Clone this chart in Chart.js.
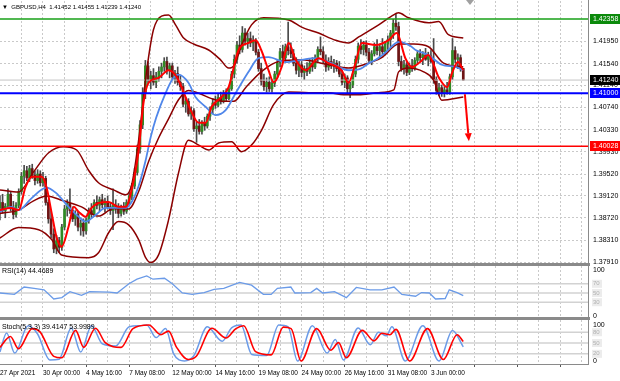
<!DOCTYPE html>
<html><head><meta charset="utf-8">
<script src="https://cdn.jsdelivr.net/npm/chart.js@4.4.1/dist/chart.umd.min.js"></script>
<style>
html,body{margin:0;padding:0;background:#fff;width:620px;height:381px;overflow:hidden;font-family:"Liberation Sans",Arial,sans-serif}
canvas{position:absolute;left:0}
.lbl{position:absolute;font-size:7px;line-height:8px;color:#000;white-space:pre}
.sep{position:absolute;background:#8a8a8a}
</style></head><body>
<canvas id="main" width="620" height="267" style="top:0"></canvas>
<canvas id="rsi" width="620" height="53" style="top:266px"></canvas>
<canvas id="sto" width="620" height="61" style="top:320px"></canvas>
<div class="sep" style="left:0;top:263px;width:590px;height:3px"></div>
<div class="sep" style="left:0;top:317px;width:590px;height:3px"></div>
<div class="sep" style="left:0;top:364px;width:589px;height:1px"></div>
<div class="sep" style="left:588px;top:0;width:1px;height:365px"></div>
<div class="lbl" style="left:2px;top:3px;font-size:6px">▼  GBPUSD,H4  1.41452 1.41455 1.41239 1.41240</div>
<div class="lbl" style="left:2px;top:267px">RSI(14) 44.4689</div>
<div class="lbl" style="left:2px;top:323px">Stoch(5,3,3) 39.4147 53.9989</div>
<script>
// ---------- DATA ----------
const timeLabels = ['27 Apr 2021','30 Apr 00:00','4 May 16:00','7 May 08:00','12 May 00:00','14 May 16:00','19 May 08:00','24 May 00:00','26 May 16:00','31 May 08:00','3 Jun 00:00'];
const priceTicks = [1.41950,1.41540,1.41140,1.40740,1.40330,1.39930,1.39520,1.39120,1.38720,1.38310,1.37910];

const open = [
1.3890,1.3900,1.3885,1.3893,1.3915,1.3890,1.3878,1.3895,1.3920,1.3948,
1.3958,1.3945,1.3962,1.3950,1.3940,1.3952,1.3936,1.3944,1.3900,1.3870,
1.3842,1.3815,1.3830,1.3818,1.3855,1.3888,1.3898,1.3885,1.3870,1.3878,
1.3855,1.3862,1.3848,1.3868,1.3885,1.3878,1.3900,1.3895,1.3905,1.3896,
1.3902,1.3892,1.3885,1.3895,1.3888,1.3880,1.3890,1.3884,1.3900,1.3912,
1.3930,1.3955,1.3998,1.4042,1.4100,1.4150,1.4125,1.4132,1.4120,1.4130,
1.4140,1.4148,1.4158,1.4142,1.4150,1.4130,1.4136,1.4120,1.4112,1.4080,
1.4085,1.4062,1.4068,1.4035,1.4040,1.4030,1.4045,1.4040,1.4058,1.4070,
1.4082,1.4078,1.4092,1.4086,1.4100,1.4090,1.4108,1.4135,1.4162,1.4188,
1.4180,1.4210,1.4195,1.4200,1.4192,1.4196,1.4175,1.4145,1.4122,1.4112,
1.4120,1.4108,1.4118,1.4135,1.4155,1.4176,1.4165,1.4185,1.4178,1.4172,
1.4155,1.4142,1.4152,1.4138,1.4145,1.4140,1.4155,1.4148,1.4165,1.4180,
1.4176,1.4160,1.4148,1.4158,1.4150,1.4155,1.4145,1.4135,1.4120,1.4128,
1.4108,1.4115,1.4135,1.4162,1.4186,1.4180,1.4188,1.4175,1.4160,1.4172,
1.4185,1.4178,1.4185,1.4176,1.4190,1.4198,1.4210,1.4228,1.4222,1.4158,
1.4145,1.4152,1.4138,1.4150,1.4145,1.4160,1.4172,1.4165,1.4170,1.4162,
1.4168,1.4158,1.4125,1.4105,1.4110,1.4100,1.4106,1.4102,1.4130,1.4178,
1.4162,1.4165,1.41452];
const high = [
1.3912,1.3915,1.3898,1.3925,1.3920,1.3902,1.3900,1.3925,1.3955,1.3968,
1.3966,1.3968,1.3970,1.3958,1.3960,1.3958,1.3955,1.3948,1.3905,1.3885,
1.3852,1.3840,1.3836,1.3860,1.3895,1.3905,1.3925,1.3892,1.3885,1.3882,
1.3868,1.3870,1.3872,1.3890,1.3898,1.3905,1.3912,1.3910,1.3915,1.3908,
1.3912,1.3900,1.3925,1.3905,1.3898,1.3895,1.3900,1.3905,1.3918,1.3935,
1.3962,1.4005,1.4050,1.4110,1.4160,1.4158,1.4140,1.4145,1.4138,1.4148,
1.4155,1.4165,1.4166,1.4155,1.4155,1.4142,1.4148,1.4132,1.4118,1.4092,
1.4090,1.4075,1.4072,1.4048,1.4052,1.4050,1.4056,1.4062,1.4075,1.4090,
1.4095,1.4098,1.4102,1.4105,1.4108,1.4112,1.4140,1.4170,1.4195,1.4205,
1.4222,1.4218,1.4210,1.4212,1.4205,1.4200,1.4180,1.4155,1.4135,1.4128,
1.4130,1.4125,1.4140,1.4160,1.4182,1.4188,1.4190,1.4230,1.4192,1.4180,
1.4165,1.4160,1.4158,1.4150,1.4156,1.4162,1.4165,1.4170,1.4185,1.4203,
1.4185,1.4170,1.4165,1.4168,1.4162,1.4160,1.4158,1.4142,1.4135,1.4132,
1.4120,1.4140,1.4168,1.4192,1.4198,1.4195,1.4196,1.4182,1.4178,1.4192,
1.4198,1.4190,1.4200,1.4195,1.4205,1.4215,1.4235,1.4246,1.4230,1.4168,
1.4160,1.4158,1.4155,1.4162,1.4165,1.4178,1.4180,1.4176,1.4182,1.4175,
1.4178,1.4200,1.4130,1.4118,1.4115,1.4112,1.4120,1.4135,1.4200,1.4185,
1.4172,1.4170,1.41455];
const low = [
1.3868,1.3880,1.3872,1.3889,1.3884,1.3870,1.3873,1.3890,1.3915,1.3935,
1.3940,1.3938,1.3944,1.3932,1.3935,1.3930,1.3930,1.3895,1.3862,1.3835,
1.3808,1.3806,1.3808,1.3812,1.3850,1.3875,1.3880,1.3865,1.3858,1.3848,
1.3840,1.3838,1.3842,1.3862,1.3872,1.3875,1.3888,1.3885,1.3890,1.3882,
1.3888,1.3878,1.3850,1.3880,1.3872,1.3875,1.3878,1.3880,1.3895,1.3905,
1.3925,1.3950,1.3990,1.4035,1.4090,1.4118,1.4108,1.4115,1.4110,1.4122,
1.4128,1.4140,1.4135,1.4128,1.4125,1.4118,1.4115,1.4105,1.4075,1.4065,
1.4058,1.4052,1.4030,1.4010,1.4025,1.4025,1.4032,1.4036,1.4050,1.4062,
1.4072,1.4075,1.4080,1.4082,1.4085,1.4088,1.4105,1.4128,1.4155,1.4172,
1.4175,1.4188,1.4182,1.4185,1.4178,1.4170,1.4140,1.4115,1.4105,1.4102,
1.4103,1.4102,1.4112,1.4128,1.4148,1.4160,1.4158,1.4170,1.4165,1.4150,
1.4135,1.4130,1.4130,1.4125,1.4132,1.4136,1.4140,1.4145,1.4158,1.4170,
1.4155,1.4140,1.4142,1.4145,1.4138,1.4140,1.4130,1.4115,1.4110,1.4100,
1.4092,1.4110,1.4130,1.4155,1.4172,1.4170,1.4168,1.4155,1.4152,1.4168,
1.4170,1.4165,1.4172,1.4170,1.4178,1.4185,1.4200,1.4215,1.4150,1.4140,
1.4135,1.4132,1.4134,1.4140,1.4142,1.4155,1.4158,1.4152,1.4160,1.4150,
1.4155,1.4118,1.4098,1.4096,1.4094,1.4093,1.4098,1.4098,1.4125,1.4155,
1.4145,1.4140,1.41239];
const close = [
1.3900,1.3885,1.3893,1.3915,1.3890,1.3878,1.3895,1.3920,1.3948,1.3958,
1.3945,1.3962,1.3950,1.3940,1.3952,1.3936,1.3944,1.3900,1.3870,1.3842,
1.3815,1.3830,1.3818,1.3855,1.3888,1.3898,1.3885,1.3870,1.3878,1.3855,
1.3862,1.3848,1.3868,1.3885,1.3878,1.3900,1.3895,1.3905,1.3896,1.3902,
1.3892,1.3885,1.3895,1.3888,1.3880,1.3890,1.3884,1.3900,1.3912,1.3930,
1.3955,1.3998,1.4042,1.4100,1.4150,1.4125,1.4132,1.4120,1.4130,1.4140,
1.4148,1.4158,1.4142,1.4150,1.4130,1.4136,1.4120,1.4112,1.4080,1.4085,
1.4062,1.4068,1.4035,1.4040,1.4030,1.4045,1.4040,1.4058,1.4070,1.4082,
1.4078,1.4092,1.4086,1.4100,1.4090,1.4108,1.4135,1.4162,1.4188,1.4180,
1.4210,1.4195,1.4200,1.4192,1.4196,1.4175,1.4145,1.4122,1.4112,1.4120,
1.4108,1.4118,1.4135,1.4155,1.4176,1.4165,1.4185,1.4178,1.4172,1.4155,
1.4142,1.4152,1.4138,1.4145,1.4140,1.4155,1.4148,1.4165,1.4180,1.4176,
1.4160,1.4148,1.4158,1.4150,1.4155,1.4145,1.4135,1.4120,1.4128,1.4108,
1.4115,1.4135,1.4162,1.4186,1.4180,1.4188,1.4175,1.4160,1.4172,1.4185,
1.4178,1.4185,1.4176,1.4190,1.4198,1.4210,1.4228,1.4222,1.4158,1.4145,
1.4152,1.4138,1.4150,1.4145,1.4160,1.4172,1.4165,1.4170,1.4162,1.4168,
1.4158,1.4125,1.4105,1.4110,1.4100,1.4106,1.4102,1.4130,1.4178,1.4162,
1.4165,1.4145,1.41240];

// indicator readings: [bar index, value]
const maFast = [[0,1.3886],[4,1.3890],[7,1.3886],[9.5,1.3928],[12,1.3947],[15.5,1.3947],[17.3,1.3928],[19.2,1.3881],[21,1.3837],[22.9,1.3819],[25.5,1.3856],[27.4,1.3892],[29.2,1.3883],[31.8,1.3874],[34,1.3890],[36.6,1.3899],[40.4,1.3901],[44,1.3892],[46.7,1.3892],[48.9,1.3923],[51.5,1.3995],[53.3,1.4082],[55.2,1.4119],[58.9,1.4128],[62.6,1.4142],[65.6,1.4130],[68.9,1.4093],[70.8,1.4069],[73.8,1.4046],[76.4,1.4046],[78.6,1.4075],[82.3,1.4093],[84.9,1.4111],[88.6,1.4179],[92.3,1.4192],[95,1.4197],[97,1.4179],[99.7,1.4142],[101.6,1.4120],[104.6,1.4148],[107.2,1.4192],[109.8,1.4161],[113.5,1.4142],[118.3,1.4164],[122,1.4155],[126.8,1.4142],[129.4,1.4119],[132,1.4155],[134.3,1.4192],[139.5,1.4188],[144.3,1.4197],[147.3,1.4210],[150.5,1.4164],[153,1.4148],[156,1.4157],[159,1.4170],[163,1.4128],[166,1.4111],[168,1.4139],[170,1.4157],[172,1.4142]];
const maSlow = [[0,1.3883],[4.3,1.3892],[6.9,1.3886],[11.8,1.3908],[17.3,1.3927],[20.7,1.3918],[25.5,1.3892],[29.2,1.3874],[31.8,1.3865],[35.5,1.3877],[39.2,1.3890],[46.7,1.3890],[48.9,1.3901],[51.5,1.3930],[54,1.3975],[56,1.4020],[58,1.4055],[61.5,1.4100],[64,1.4125],[66.3,1.4134],[70,1.4119],[72.6,1.4093],[76.4,1.4075],[80,1.4060],[83.8,1.4069],[87.5,1.4100],[92.3,1.4139],[96,1.4164],[99.7,1.4166],[106,1.4157],[112,1.4161],[117.2,1.4164],[122,1.4157],[129.5,1.4142],[134,1.4145],[137,1.4155],[139.5,1.4161],[143.2,1.4175],[147,1.4192],[148.5,1.4194],[152.8,1.4185],[154.3,1.4179],[159,1.4170],[164,1.4152],[169,1.4148],[172,1.4142]];
const bbUpper = [[0,1.3923],[6.9,1.3919],[12.5,1.3956],[18.1,1.3991],[23.6,1.4002],[28.5,1.3996],[32.9,1.3959],[36.6,1.3936],[42.2,1.3923],[46.7,1.3914],[48.9,1.3932],[51.5,1.4014],[54.5,1.4142],[57,1.4216],[60,1.4241],[62.6,1.4243],[65.2,1.4225],[68.2,1.4201],[71.9,1.4190],[77.5,1.4179],[81.9,1.4161],[84.9,1.4146],[87.1,1.4152],[89.7,1.4188],[93.4,1.4225],[97.9,1.4238],[107.2,1.4234],[112,1.4221],[118.3,1.4210],[124.6,1.4197],[129.4,1.4192],[133.2,1.4203],[140.6,1.4225],[145.4,1.4241],[148,1.4247],[151.7,1.4238],[159.1,1.4229],[162.9,1.4231],[166.5,1.4207],[172,1.4201]];
const bbMiddle = [[0,1.3880],[6.9,1.3886],[12.5,1.3903],[17.3,1.3912],[23.6,1.3903],[30.3,1.3892],[36.6,1.3875],[42.2,1.3889],[47.8,1.3888],[51.5,1.3920],[55.2,1.3975],[58.9,1.4018],[62.6,1.4053],[66.3,1.4088],[70,1.4105],[73.8,1.4100],[78.6,1.4090],[83,1.4085],[86.8,1.4085],[91.2,1.4110],[97.2,1.4140],[103.5,1.4158],[112,1.4161],[122,1.4152],[129.4,1.4146],[135,1.4152],[141.7,1.4165],[148,1.4190],[153.6,1.4190],[159.1,1.4185],[164.7,1.4155],[172,1.4148]];
const bbLower = [[0,1.3835],[6.9,1.3854],[14.4,1.3850],[19.2,1.3832],[22.9,1.3804],[32.9,1.3799],[36.6,1.3808],[40.4,1.3845],[44,1.3865],[47.8,1.3859],[51.5,1.3832],[54.1,1.3799],[55.9,1.3790],[58.9,1.3804],[62.6,1.3868],[66.3,1.3954],[70,1.4014],[73.8,1.4005],[77.5,1.3996],[81.2,1.4009],[86,1.4011],[89.7,1.3993],[93.4,1.4005],[97.2,1.4033],[101.6,1.4079],[107.2,1.4102],[114.6,1.4101],[122,1.4101],[127.6,1.4097],[133.2,1.4097],[140.6,1.4101],[146.2,1.4106],[148,1.4139],[151.7,1.4146],[157.3,1.4139],[161,1.4124],[164,1.4087],[172,1.4093]];
const rsi = [[0,50],[5.4,47],[9,63],[12.7,60],[16.4,57],[20,37],[23,40],[26,53],[30.3,45],[33.3,53],[40.6,52],[43.5,50],[47.9,70],[50.9,80],[54.5,87],[56.8,80],[61.1,82],[64,70],[67.7,50],[71.4,47],[75.8,51],[79.5,58],[83.1,60],[89,73],[93.4,67],[97.8,47],[100.7,47],[103,60],[108,63],[109.5,50],[115.4,51],[117.6,60],[119.8,50],[124.2,53],[128.6,40],[132.3,62],[137.4,57],[141.8,57],[146.3,63],[149.2,47],[154.3,43],[156.5,51],[159.4,50],[161.7,37],[165.3,38],[166.8,57],[169.7,51],[172,44.47]];
const stochMain = [[0,25],[2.5,78],[5.5,22],[10.5,98],[14,75],[18.5,3],[22,5],[26.5,92],[30,25],[34,98],[38,48],[43,42],[48,95],[52,98],[54.5,100],[58,65],[61.5,90],[64.5,20],[68.5,0],[72,15],[77,95],[82.5,55],[86,92],[89.5,100],[93.5,18],[99,15],[103.5,100],[107,95],[110.5,0],[116,98],[121.5,22],[124.5,60],[127.5,3],[133,92],[137.5,45],[140.5,80],[143.5,70],[145.5,95],[150.5,0],[157,98],[163,0],[168,85],[172,39.41]];
const stochSignal = [[0,38],[3.9,68],[6.9,34],[12,90],[14.9,81],[20,13],[23,9],[28.1,85],[31.1,38],[35.5,91],[39.1,51],[45,38],[49.4,90],[55.3,100],[59.7,73],[62.6,83],[65.6,38],[69.9,4],[72.9,13],[78.7,91],[83.9,64],[87.6,90],[90.5,98],[94.9,26],[100.7,17],[105.2,94],[108.1,90],[111.8,0],[117.6,90],[122.8,30],[125.7,51],[128.6,9],[134.5,85],[138.9,56],[141.8,77],[144.8,73],[147,88],[152.1,0],[158.7,90],[164.6,4],[169.7,73],[172,54.0]];

const levelGreen = 1.42358, levelBlue = 1.41000, levelRed = 1.40028, lastPrice = 1.41240;
const arrowPath = [[172.6,1.4098],[174.1,1.4012]];
const rsiLevels = [70,50,30];
const stochLevels = [80,50,20];
const shiftMark = 174.5;

// ---------- LAYOUT ----------
const X_MIN = 0.04, X_MAX = 218.3, GRID_STEP = 8, LABEL_STEP = 16;
const P_MIN = 1.37892, P_MAX = 1.42687;
const FONT = "'Liberation Sans', Arial, sans-serif";
Chart.defaults.font.family = FONT;
Chart.defaults.font.size = 7;
Chart.defaults.color = '#000';
const gridTicks = [];
for (let v = 0; v <= X_MAX; v += GRID_STEP) gridTicks.push(v);
const GRID_COL = '#c9c9c9';
const pts = arr => arr.map(p => ({x: p[0], y: p[1]}));
const flat = v => [{x: X_MIN, y: v}, {x: X_MAX, y: v}];
const noPad = s => { s.paddingTop = 0; s.paddingBottom = 0; s.paddingLeft = 0; s.paddingRight = 0; };

function xScale(showLabels) {
  return {
    type: 'linear', min: X_MIN, max: X_MAX, offset: false,
    afterBuildTicks: s => { s.ticks = gridTicks.map(v => ({value: v})); },
    afterFit: s => { s.height = showLabels ? 17 : 0; noPad(s); },
    grid: { color: GRID_COL, lineWidth: 1, offset: false, drawTicks: showLabels, tickLength: 3,
            tickColor: c => (c.tick && c.tick.value % LABEL_STEP === 0) ? '#555' : 'rgba(0,0,0,0)' },
    border: { display: false, dash: [2, 2] },
    ticks: { display: showLabels, align: 'start', padding: 2, maxRotation: 0, autoSkip: false,
             font: {size: 6.5}, color: '#000',
             callback: v => (v % LABEL_STEP === 0 ? (timeLabels[v / LABEL_STEP] || '') : '') }
  };
}
function yScale(min, max, ticks, showGrid, fmt) {
  return {
    position: 'right', min, max,
    afterBuildTicks: s => { s.ticks = ticks.map(v => ({value: v})); },
    afterFit: s => { s.width = 32; noPad(s); },
    grid: { display: showGrid, color: GRID_COL, drawTicks: false },
    border: { display: false, dash: [2, 2] },
    ticks: { padding: 5, font: {size: 7}, color: '#000', callback: fmt }
  };
}
const baseOpts = {
  responsive: false, animation: false, devicePixelRatio: 1,
  plugins: { legend: {display: false}, tooltip: {enabled: false} },
  events: []
};
function line(data, color, width, order, mode) {
  return { type: 'line', data, borderColor: color, borderWidth: width, pointRadius: 0, fill: false,
           order, cubicInterpolationMode: mode === 'smooth' ? 'monotone' : 'default', tension: 0 };
}

// ---------- MAIN CHART ----------
const idx = close.map((_, i) => i);
const mainDecor = {
  id: 'mainDecor',
  afterDatasetsDraw(chart) {
    const {ctx, chartArea} = chart; const x = chart.scales.x, y = chart.scales.y;
    ctx.save();
    const x1 = x.getPixelForValue(arrowPath[0][0]), y1 = y.getPixelForValue(arrowPath[0][1]);
    const x2 = x.getPixelForValue(arrowPath[1][0]), y2 = y.getPixelForValue(arrowPath[1][1]);
    const ang = Math.atan2(y2 - y1, x2 - x1), hl = 8, hw = 3.5;
    const bx = x2 - hl * Math.cos(ang), by = y2 - hl * Math.sin(ang);
    ctx.strokeStyle = '#ff0000'; ctx.lineWidth = 2;
    ctx.beginPath(); ctx.moveTo(x1, y1); ctx.lineTo(bx, by); ctx.stroke();
    ctx.fillStyle = '#ff0000'; ctx.beginPath(); ctx.moveTo(x2, y2);
    ctx.lineTo(bx + hw * Math.sin(ang), by - hw * Math.cos(ang));
    ctx.lineTo(bx - hw * Math.sin(ang), by + hw * Math.cos(ang)); ctx.closePath(); ctx.fill();
    const boxes = [[levelGreen, '#0b8a0b'], [lastPrice, '#000000'], [levelBlue, '#0000ff'], [levelRed, '#ff0000']];
    ctx.font = '7px ' + FONT; ctx.textBaseline = 'middle'; ctx.textAlign = 'left';
    for (const [v, bg] of boxes) {
      const py = Math.round(y.getPixelForValue(v));
      ctx.fillStyle = bg; ctx.fillRect(chartArea.right + 2, py - 5, 30, 10);
      ctx.fillStyle = '#fff'; ctx.fillText(v.toFixed(5), chartArea.right + 5, py + 0.5);
    }
    const sx = x.getPixelForValue(shiftMark);
    ctx.fillStyle = '#a0a0a0'; ctx.beginPath(); ctx.moveTo(sx - 4, 0); ctx.lineTo(sx + 4, 0); ctx.lineTo(sx, 5); ctx.closePath(); ctx.fill();
    ctx.restore();
  }
};
new Chart(document.getElementById('main'), {
  type: 'bar',
  data: { datasets: [
    line(flat(levelGreen), '#17a017', 1.5, 1),
    line(flat(levelBlue), '#0000ff', 2, 1),
    line(flat(levelRed), '#ff0000', 1.5, 1),
    line(pts(maFast), '#ff0000', 2, 3, 'smooth'),
    line(pts(maSlow), '#5087ea', 1.8, 4, 'smooth'),
    line(pts(bbUpper), '#8b0000', 1.5, 5, 'smooth'),
    line(pts(bbMiddle), '#8b0000', 1.5, 5, 'smooth'),
    line(pts(bbLower), '#8b0000', 1.5, 5, 'smooth'),
    line(flat(lastPrice), '#c4c4c4', 1, 8),
    { type: 'bar', data: idx.map(i => ({x: i, y: [open[i], close[i]]})), grouped: false, barThickness: 2, minBarLength: 1,
      backgroundColor: idx.map(i => close[i] >= open[i] ? '#2f8a24' : '#6e1414'), borderWidth: 0, order: 9 },
    { type: 'bar', data: idx.map(i => ({x: i, y: [low[i], high[i]]})), grouped: false, barThickness: 1,
      backgroundColor: '#4a4a4a', borderWidth: 0, order: 10 }
  ]},
  options: Object.assign({}, baseOpts, {
    layout: { padding: {top: 1, bottom: 4, left: 0, right: 0} },
    scales: { x: xScale(false), y: yScale(P_MIN, P_MAX, priceTicks, true, v => Number(v).toFixed(5)) }
  }),
  plugins: [mainDecor]
});

function levelLabels(levels) {
  return { id: 'lv', afterDatasetsDraw(chart) {
    const {ctx, chartArea} = chart; const y = chart.scales.y;
    ctx.save(); ctx.font = '6px ' + FONT; ctx.textBaseline = 'middle';
    for (const l of levels) {
      const py = y.getPixelForValue(l);
      ctx.fillStyle = '#ececec'; ctx.fillRect(chartArea.right + 4, py - 4, 10, 8);
      ctx.fillStyle = '#b0b0b0'; ctx.fillText(String(l), chartArea.right + 5, py);
    }
    ctx.restore();
  }};
}

// ---------- RSI ----------
new Chart(document.getElementById('rsi'), {
  type: 'line',
  data: { datasets: [
    ...rsiLevels.map(l => line(flat(l), '#d2d2d2', 1.5, 5)),
    line(pts(rsi), '#6b9be8', 1.3, 1)
  ]},
  options: Object.assign({}, baseOpts, {
    layout: { padding: {top: 0, bottom: 2, left: 0, right: 0} },
    scales: { x: xScale(false), y: yScale(-2.17, 108.7, [0, 100], false, v => String(v)) }
  }),
  plugins: [levelLabels(rsiLevels)]
});

// ---------- STOCHASTIC ----------
new Chart(document.getElementById('sto'), {
  type: 'line',
  data: { datasets: [
    ...stochLevels.map(l => line(flat(l), '#d2d2d2', 1.5, 5)),
    line(pts(stochMain), '#6b9be8', 1.5, 2, 'smooth'),
    line(pts(stochSignal), '#ff0000', 1.6, 1, 'smooth')
  ]},
  options: Object.assign({}, baseOpts, {
    layout: { padding: {top: 0, bottom: 0, left: 0, right: 0} },
    scales: { x: xScale(true), y: yScale(-8.3, 113.9, [0, 100], false, v => String(v)) }
  }),
  plugins: [levelLabels(stochLevels)]
});
</script>
</body></html>
